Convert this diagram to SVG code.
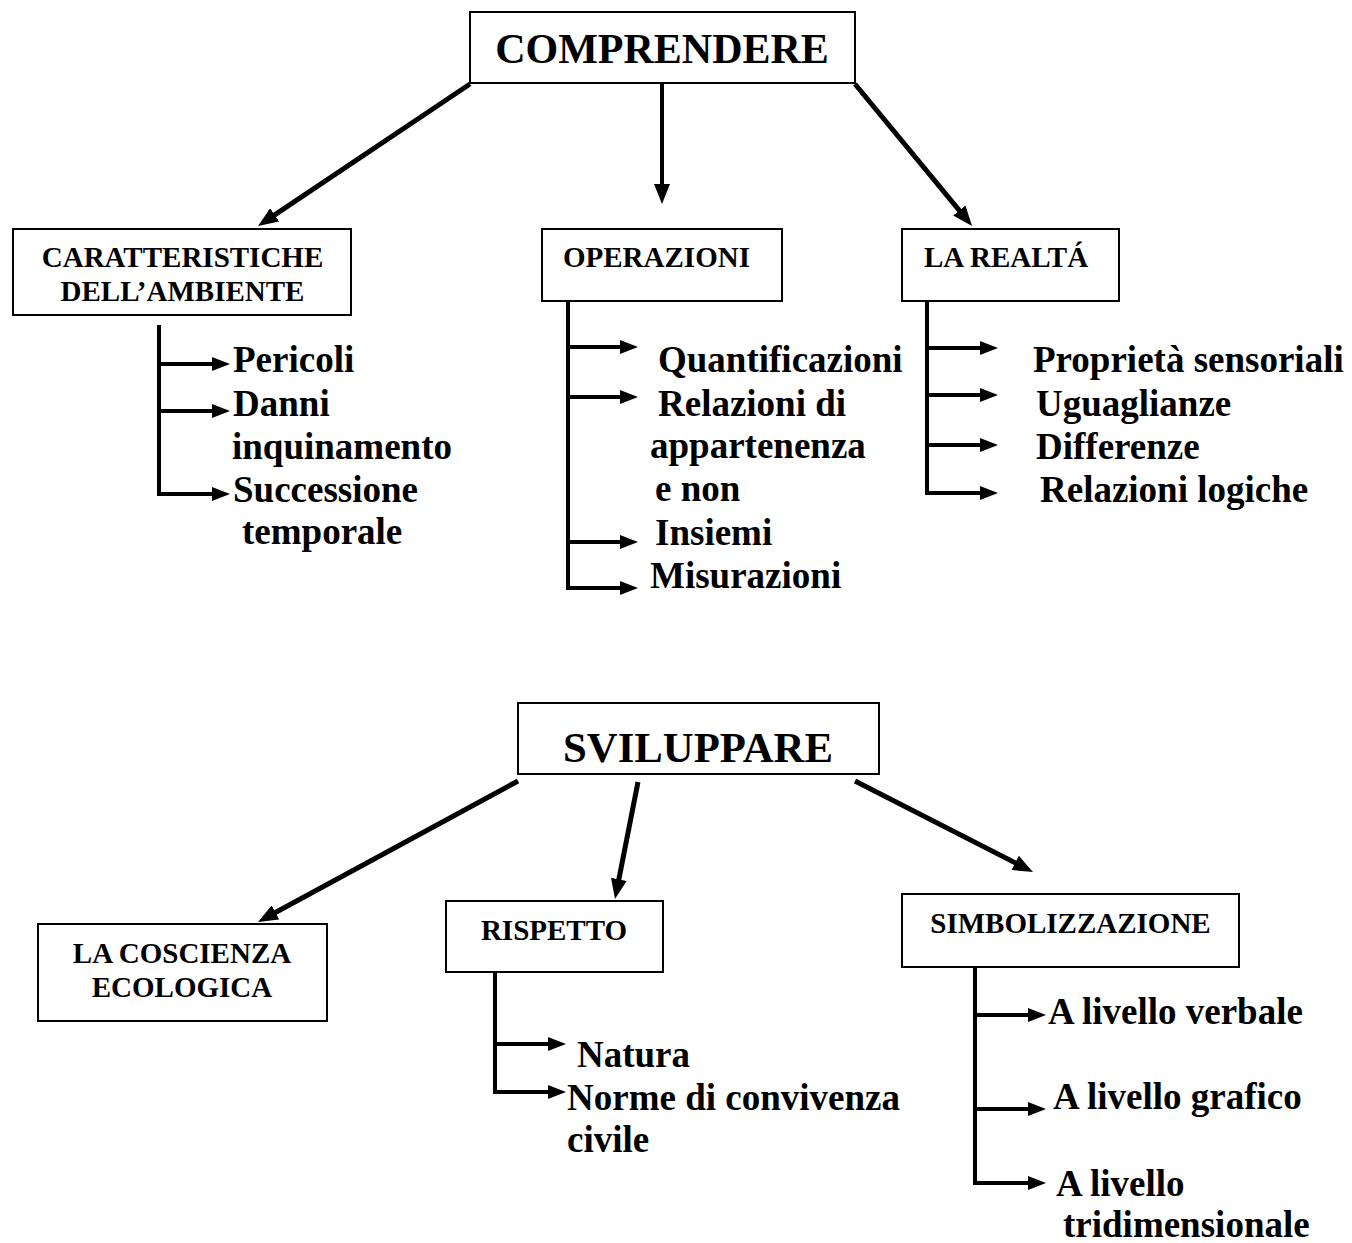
<svg xmlns="http://www.w3.org/2000/svg" width="1352" height="1243" viewBox="0 0 1352 1243">
<defs>
<marker id="ah" viewBox="0 0 18 14" refX="6" refY="7" markerWidth="18" markerHeight="14" markerUnits="userSpaceOnUse" orient="auto"><path d="M0,0 L18,7 L0,14 z" fill="#000"/></marker>
<marker id="ahb" viewBox="0 0 20 16" refX="8" refY="8" markerWidth="20" markerHeight="16" markerUnits="userSpaceOnUse" orient="auto"><path d="M0,0 L20,8 L0,16 z" fill="#000"/></marker>
</defs>
<style>
.box{fill:#fff;stroke:#000;stroke-width:2}
text{font-family:"Liberation Serif","Times New Roman",serif;font-weight:bold;fill:#000}
.title{font-size:42px;text-anchor:middle}
.lbl{font-size:29px}
.mid{text-anchor:middle}
.item{font-size:37px}
.main{stroke:#000;stroke-width:5;fill:none}
.br{stroke:#000;stroke-width:4;fill:none;stroke-linejoin:miter}
</style>
<rect width="1352" height="1243" fill="#fff"/>

<g id="connectors">
<line class="main" x1="470" y1="84" x2="268" y2="219.3" marker-end="url(#ahb)"/>
<line class="br" x1="662" y1="84" x2="662" y2="192" marker-end="url(#ahb)"/>
<line class="main" x1="855" y1="84" x2="964.4" y2="216.7" marker-end="url(#ahb)"/>
<line class="main" x1="518" y1="781" x2="268.5" y2="916.3" marker-end="url(#ahb)"/>
<line class="main" x1="638" y1="782" x2="617.3" y2="887.2" marker-end="url(#ahb)"/>
<line class="main" x1="855" y1="781" x2="1022.3" y2="866.5" marker-end="url(#ahb)"/>

<path class="br" d="M159,325 V494 H218" marker-end="url(#ah)"/>
<line class="br" x1="159" y1="364" x2="218" y2="364" marker-end="url(#ah)"/>
<line class="br" x1="159" y1="411" x2="218" y2="411" marker-end="url(#ah)"/>

<path class="br" d="M568,301 V588 H626" marker-end="url(#ah)"/>
<line class="br" x1="568" y1="347" x2="626" y2="347" marker-end="url(#ah)"/>
<line class="br" x1="568" y1="397" x2="626" y2="397" marker-end="url(#ah)"/>
<line class="br" x1="568" y1="542" x2="626" y2="542" marker-end="url(#ah)"/>

<path class="br" d="M927,301 V493 H986" marker-end="url(#ah)"/>
<line class="br" x1="927" y1="348" x2="986" y2="348" marker-end="url(#ah)"/>
<line class="br" x1="927" y1="395" x2="986" y2="395" marker-end="url(#ah)"/>
<line class="br" x1="927" y1="445" x2="986" y2="445" marker-end="url(#ah)"/>

<path class="br" d="M495,972 V1092 H554" marker-end="url(#ah)"/>
<line class="br" x1="495" y1="1044" x2="554" y2="1044" marker-end="url(#ah)"/>

<path class="br" d="M975,967 V1183 H1034" marker-end="url(#ah)"/>
<line class="br" x1="975" y1="1015" x2="1034" y2="1015" marker-end="url(#ah)"/>
<line class="br" x1="975" y1="1109" x2="1034" y2="1109" marker-end="url(#ah)"/>
</g>

<g id="comprendere">
<rect class="box" x="470" y="12" width="385" height="71"/>
<text class="title" x="662" y="63">COMPRENDERE</text>
</g>

<g id="caratteristiche">
<rect class="box" x="13" y="229" width="338" height="86"/>
<text class="lbl mid" x="182.5" y="267">CARATTERISTICHE</text>
<text class="lbl mid" x="182.5" y="301">DELL’AMBIENTE</text>
</g>
<g id="car-items">
<text class="item" x="233" y="372">Pericoli</text>
<text class="item" x="233" y="416">Danni</text>
<text class="item" x="232" y="459">inquinamento</text>
<text class="item" x="233" y="502">Successione</text>
<text class="item" x="242" y="544">temporale</text>
</g>

<g id="operazioni">
<rect class="box" x="542" y="229" width="240" height="72"/>
<text class="lbl" x="563" y="267">OPERAZIONI</text>
</g>
<g id="op-items">
<text class="item" x="658" y="372">Quantificazioni</text>
<text class="item" x="658" y="416">Relazioni di</text>
<text class="item" x="650" y="458">appartenenza</text>
<text class="item" x="655" y="501">e non</text>
<text class="item" x="655" y="545">Insiemi</text>
<text class="item" x="650" y="588">Misurazioni</text>
</g>

<g id="realta">
<rect class="box" x="902" y="229" width="217" height="72"/>
<text class="lbl" x="924" y="267">LA REALTÁ</text>
</g>
<g id="re-items">
<text class="item" x="1033" y="372">Proprietà sensoriali</text>
<text class="item" x="1036" y="416">Uguaglianze</text>
<text class="item" x="1036" y="459">Differenze</text>
<text class="item" x="1040" y="502">Relazioni logiche</text>
</g>

<g id="sviluppare">
<rect class="box" x="518" y="703" width="361" height="71"/>
<text class="title" x="698" y="762" font-size="52" textLength="270" lengthAdjust="spacingAndGlyphs">SVILUPPARE</text>
</g>

<g id="coscienza">
<rect class="box" x="38" y="924" width="289" height="97"/>
<text class="lbl mid" x="182" y="963">LA COSCIENZA</text>
<text class="lbl mid" x="182" y="997">ECOLOGICA</text>
</g>

<g id="rispetto">
<rect class="box" x="446" y="901" width="217" height="71"/>
<text class="lbl mid" x="554" y="940">RISPETTO</text>
</g>
<g id="ri-items">
<text class="item" x="577" y="1067">Natura</text>
<text class="item" x="567" y="1110">Norme di convivenza</text>
<text class="item" x="567" y="1152">civile</text>
</g>

<g id="simbolizzazione">
<rect class="box" x="902" y="894" width="337" height="73"/>
<text class="lbl mid" x="1070.5" y="933">SIMBOLIZZAZIONE</text>
</g>
<g id="si-items">
<text class="item" x="1048" y="1024">A livello verbale</text>
<text class="item" x="1053" y="1109">A livello grafico</text>
<text class="item" x="1056" y="1196">A livello</text>
<text class="item" x="1063" y="1237">tridimensionale</text>
</g>
</svg>
